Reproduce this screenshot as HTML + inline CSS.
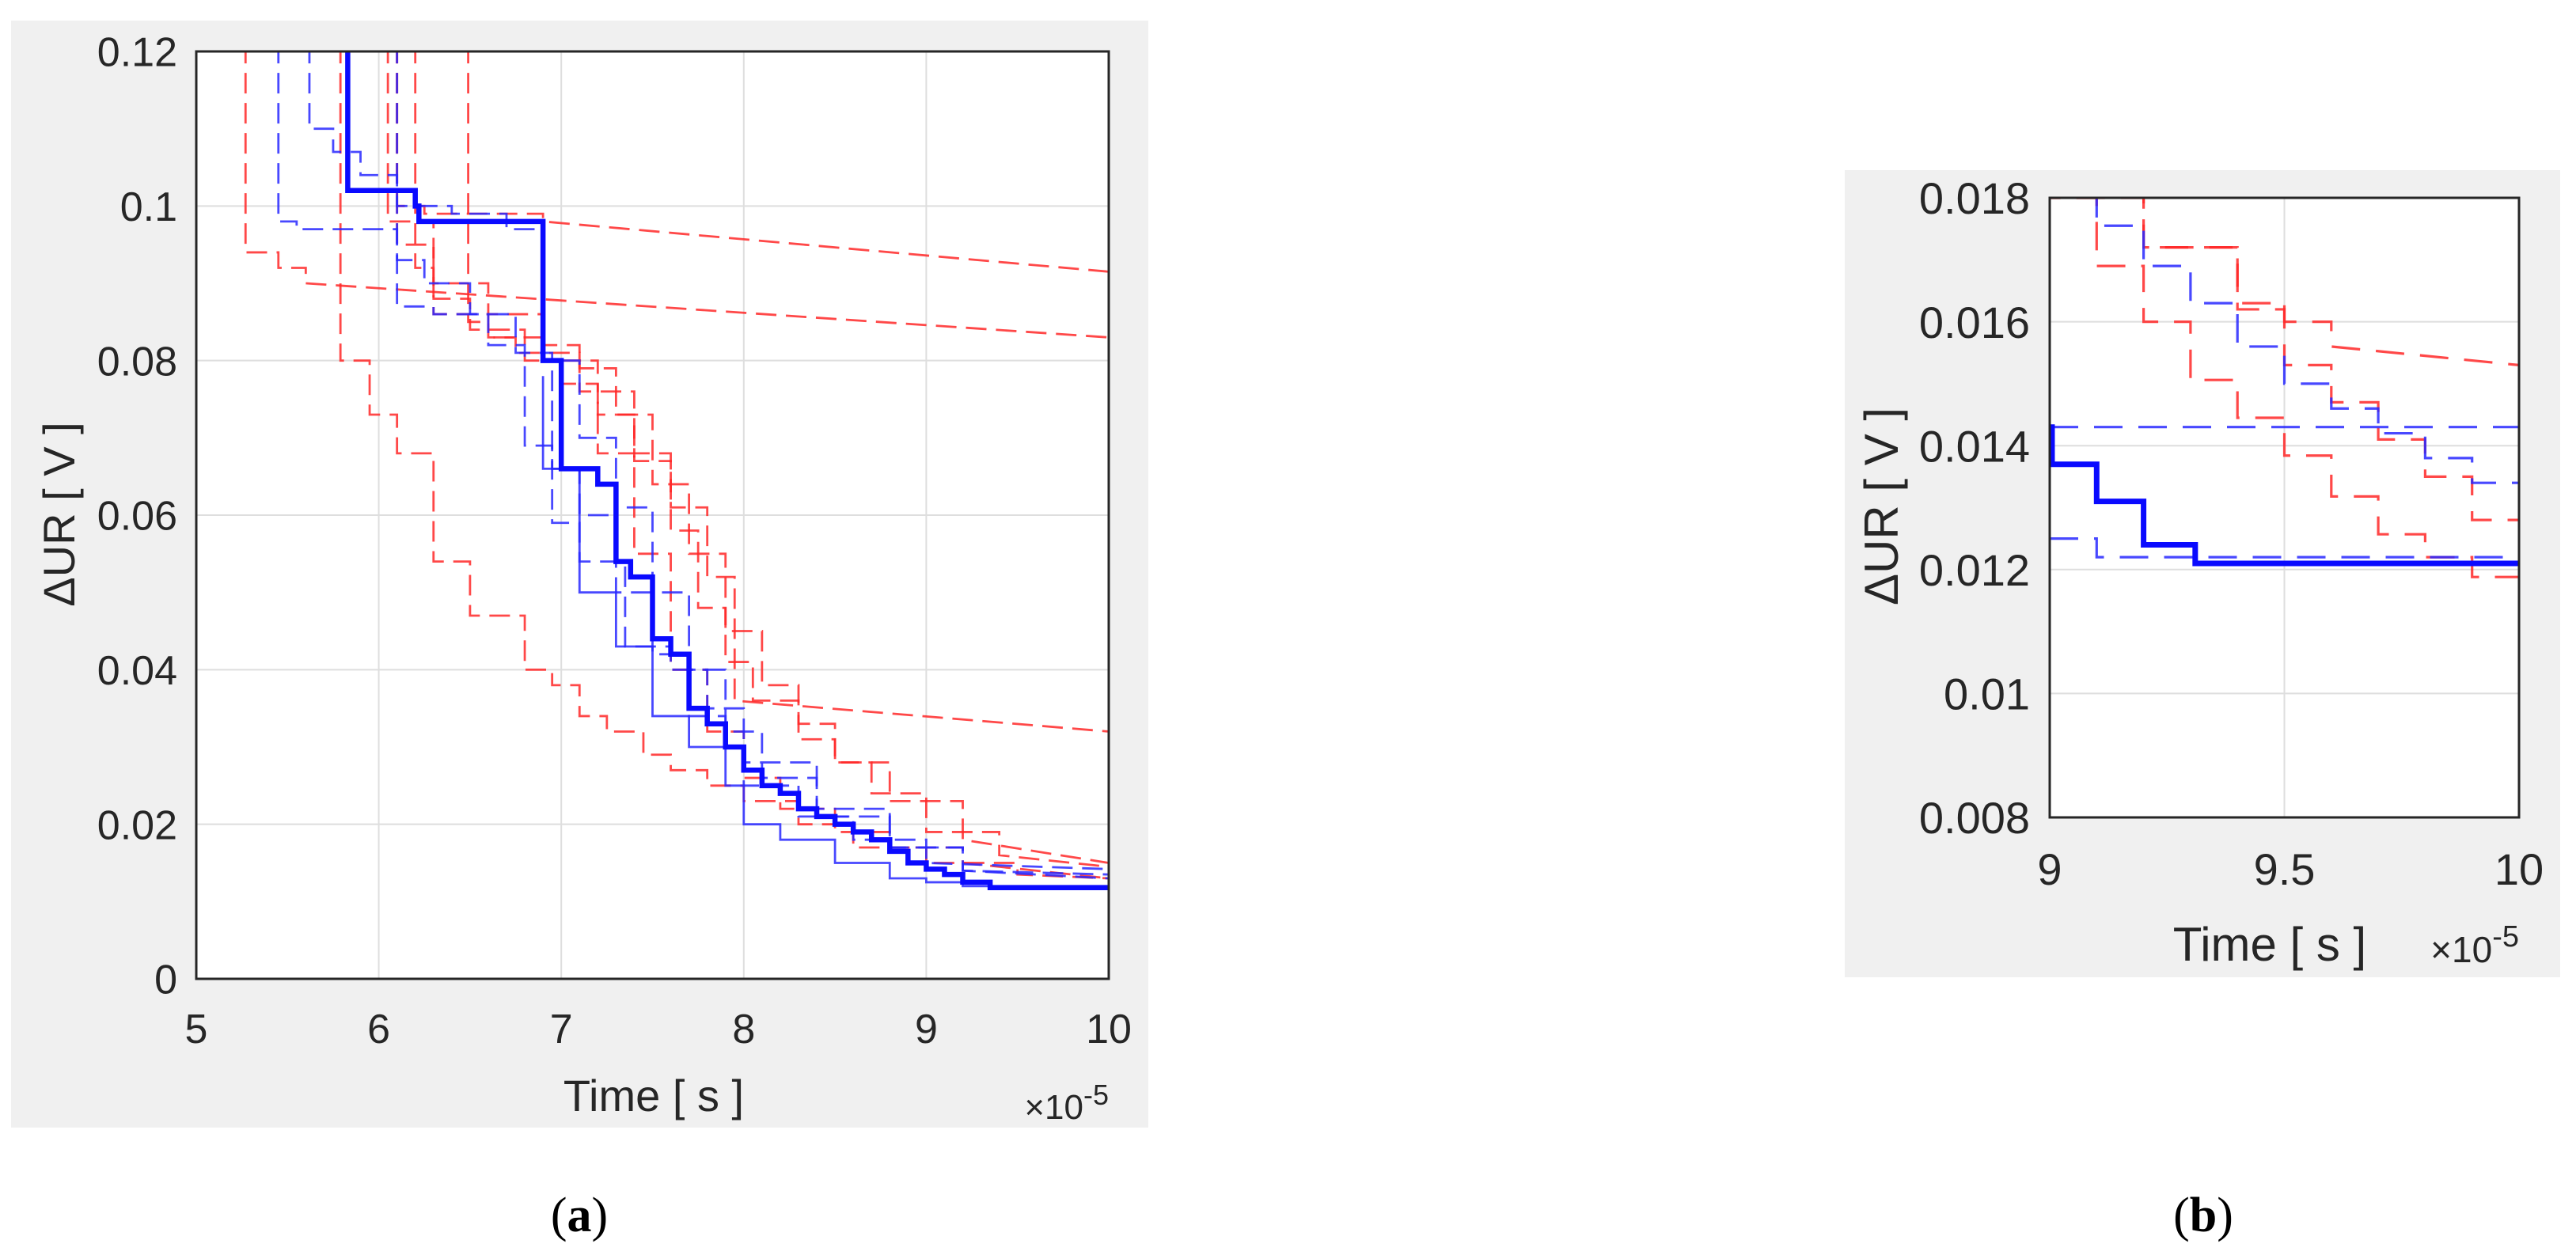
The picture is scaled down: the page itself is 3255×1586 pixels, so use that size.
<!DOCTYPE html>
<html><head><meta charset="utf-8"><style>
html,body{margin:0;padding:0;background:#fff;}
svg{display:block;}
text{font-family:"Liberation Sans",Arial,sans-serif;fill:#262626;}
</style></head><body>
<svg id="fig" width="3255" height="1586" viewBox="0 0 3255 1586" xmlns="http://www.w3.org/2000/svg">
<rect x="14" y="26" width="1437" height="1399" fill="#f0f0f0"/>
<rect x="2331" y="215" width="904" height="1020" fill="#f0f0f0"/>
<g id="pa"></g>
<g id="pb"></g>
<text x="732" y="1556" text-anchor="middle" font-size="62" style="font-family:'Liberation Serif',serif;fill:#000">(<tspan font-weight="bold">a</tspan>)</text>
<text x="2784" y="1556" text-anchor="middle" font-size="62" style="font-family:'Liberation Serif',serif;fill:#000">(<tspan font-weight="bold">b</tspan>)</text>
</svg>
<script>
// ---------- Panel A data ----------
const aXTicks = [5,6,7,8,9,10];
const aYTicks = [0,0.02,0.04,0.06,0.08,0.1,0.12];
const aYTickLabels = ["0","0.02","0.04","0.06","0.08","0.1","0.12"];
const aThickX = [5.83,6.2,6.22,6.9,7.0,7.2,7.3,7.38,7.5,7.6,7.7,7.8,7.9,8.0,8.1,8.2,8.3,8.4,8.5,8.6,8.7,8.8,8.9,9.0,9.1,9.2,9.35];
const aThickY = [0.102,0.1,0.098,0.080,0.066,0.064,0.054,0.052,0.044,0.042,0.035,0.033,0.030,0.027,0.025,0.024,0.022,0.021,0.020,0.019,0.018,0.0165,0.015,0.0142,0.0135,0.0125,0.0118];
const aThickEnd = 0.0118;
const aRed1X = [5.79,5.95,6.1,6.3,6.5,6.8,6.95,7.1,7.25,7.45,7.6,7.8,8.0,8.3,8.6,9.0,9.5];
const aRed1Y = [0.080,0.073,0.068,0.054,0.047,0.040,0.038,0.034,0.032,0.029,0.027,0.025,0.023,0.020,0.017,0.015,0.0135];
const aRed2X = [6.1,6.25,6.9];
const aRed2Y = [0.100,0.099,0.098];
const aRed3X = [5.27,5.45,5.6];
const aRed3Y = [0.094,0.092,0.090];
const aRed4X = [6.49,6.6,6.75,7.1,7.4,7.6,7.8,7.95];
const aRed4Y = [0.085,0.083,0.081,0.076,0.068,0.061,0.052,0.036];
const aRed5X = [6.2,6.3,6.5,6.8,7.0,7.2,7.4,7.6,7.75,7.9,8.05,8.3,8.5,8.8,9.2];
const aRed5Y = [0.092,0.088,0.084,0.080,0.077,0.073,0.067,0.058,0.048,0.041,0.036,0.031,0.028,0.023,0.018];
const aRed6X = [6.05,6.3,6.6,6.9,7.1,7.3,7.5,7.7,7.9,8.1,8.3,8.5,8.7,9.0,9.4];
const aRed6Y = [0.098,0.090,0.086,0.082,0.079,0.073,0.064,0.055,0.045,0.038,0.033,0.028,0.024,0.019,0.016];
const aRed7X = [6.1,6.3,6.6,6.9,7.2,7.4,7.6,7.8,8.0,8.2,8.5,8.8,9.2];
const aRed7Y = [0.095,0.086,0.083,0.080,0.068,0.055,0.040,0.032,0.026,0.022,0.019,0.017,0.015];
const aRedEnd = [0.013,0.0915,0.083,0.032,0.015,0.0145,0.013];
const aBlue1X = [5.45,5.55,6.1,6.25,6.5,6.75,6.95,7.1,7.3,7.5,7.7,7.9,8.0,8.3,8.6,9.0];
const aBlue1Y = [0.098,0.097,0.093,0.090,0.086,0.081,0.066,0.060,0.050,0.042,0.034,0.030,0.025,0.021,0.018,0.015];
const aBlue2X = [5.62,5.75,5.9,6.1,6.4,6.7,6.9,7.1,7.3,7.5,7.7,7.9,8.1,8.4,8.8,9.2];
const aBlue2Y = [0.110,0.107,0.104,0.100,0.099,0.097,0.080,0.070,0.061,0.050,0.040,0.032,0.026,0.021,0.017,0.014];
const aBlue3X = [6.1,6.3,6.6,6.8,6.95,7.1,7.35,7.6,7.8,8.0,8.4,8.8,9.2];
const aBlue3Y = [0.087,0.086,0.082,0.069,0.059,0.054,0.043,0.040,0.035,0.028,0.022,0.017,0.014];
const aBlue4X = [6.9,7.1,7.3,7.5,7.7,7.9,8.0,8.2,8.5,8.8,9.0,9.2];
const aBlue4Y = [0.066,0.050,0.043,0.034,0.030,0.025,0.020,0.018,0.015,0.013,0.0125,0.012];
const aBlueEnd = [0.0142,0.013,0.0135,0.012];
const aBlueStart = [0.125,0.125,0.125,0.078];

// ---------- Panel B data ----------
const bXTicks = [9,9.5,10];
const bXTickLabels = ["9","9.5","10"];
const bYTicks = [0.008,0.010,0.012,0.014,0.016,0.018];
const bYTickLabels = ["0.008","0.01","0.012","0.014","0.016","0.018"];
const bThickX = [9.0,9.005,9.1,9.2,9.31];
const bThickY = [0.0143,0.0137,0.0131,0.0124,0.0121];
const bThickEnd = 0.0121;
const bBlue1X = [9.0];
const bBlue1Y = [0.0143];
const bBlue2X = [9.0,9.1,9.25];
const bBlue2Y = [0.0125,0.0122,0.0122];
const bBlue3X = [9.0,9.1,9.2,9.3,9.4,9.5,9.6,9.7,9.8,9.9];
const bBlue3Y = [0.0181,0.01755,0.0169,0.0163,0.0156,0.0150,0.0146,0.0142,0.0138,0.0134];
const bBlueEnd = [0.0143,0.0122,0.0134];
const bRed1X = [9.0,9.1,9.2,9.3,9.4,9.5,9.6,9.7,9.8,9.9];
const bRed1Y = [0.0180,0.0169,0.0160,0.01506,0.01445,0.01384,0.01318,0.01257,0.0122,0.01188];
const bRed2X = [9.2,9.4,9.5,9.6];
const bRed2Y = [0.0172,0.0163,0.0160,0.0156];
const bRed3X = [9.0,9.2,9.4,9.5,9.6,9.7,9.8,9.9];
const bRed3Y = [0.0180,0.0172,0.0162,0.0153,0.0147,0.0141,0.0135,0.0128];
const bRedEnd = [0.01188,0.0153,0.0128];

const NS = "http://www.w3.org/2000/svg";
function mk(parent, tag, attrs){
  const e = document.createElementNS(NS, tag);
  for (const k in attrs) e.setAttribute(k, attrs[k]);
  parent.appendChild(e);
  return e;
}
function stepPath(xs, ys, endY, startY, sx, sy, xMax){
  let d = "";
  if (startY !== null) d += "M" + sx(xs[0]) + "," + sy(startY) + " L" + sx(xs[0]) + "," + sy(ys[0]);
  else d += "M" + sx(xs[0]) + "," + sy(ys[0]);
  for (let i = 1; i < xs.length; i++){
    d += " L" + sx(xs[i]) + "," + sy(ys[i-1]) + " L" + sx(xs[i]) + "," + sy(ys[i]);
  }
  d += " L" + sx(xMax) + "," + sy(endY);
  return d;
}

function drawAxes(g, L, T, R, B, xTicks, xLabels, yTicks, yLabels, sx, sy, fs, cfg){
  mk(g, "rect", {x:L, y:T, width:R-L, height:B-T, fill:"#fff"});
  xTicks.forEach((v,i)=>{
    const l = mk(g, "line", {x1:sx(v), x2:sx(v), y1:T, y2:B, stroke:"#dedede", "stroke-width":2});
    
    
    const t = mk(g, "text", {x:sx(v), y:cfg.xLabelY, "text-anchor":"middle", "font-size":fs});
    t.textContent = xLabels[i];
    
    
  });
  yTicks.forEach((v,i)=>{
    const l = mk(g, "line", {x1:L, x2:R, y1:sy(v), y2:sy(v), stroke:"#dedede", "stroke-width":2});
    
    
    const t = mk(g, "text", {x:cfg.yLabelX, y:sy(v)+fs*0.36, "text-anchor":"end", "font-size":fs});
    t.textContent = yLabels[i];
    
    
  });
}
function frame(g, L, T, R, B){
  const f = mk(g, "rect", {x:L, y:T, width:R-L, height:B-T, fill:"none", stroke:"#262626", "stroke-width":3});
  
  
}
function series(g, d, color, w, dash, name, clip){
  const p = mk(g, "path", {d:d, fill:"none", stroke:color, "stroke-width":w, "stroke-linejoin":"miter", "clip-path":"url(#"+clip+")"});
  if (dash) p.setAttribute("stroke-dasharray", dash);
  
  
}

// ===== Panel A =====
(function(){
  const g = document.getElementById("pa");
  const L=248, T=65, R=1401, B=1237;
  const sx = v => L + (v-5)/(10-5)*(R-L);
  const sy = v => B - (v-0)/(0.12)*(B-T);
  const defs = mk(g, "defs", {});
  const cp = mk(defs, "clipPath", {id:"clipA"});
  mk(cp, "rect", {x:L, y:T, width:R-L, height:B-T});
  drawAxes(g, L, T, R, B, aXTicks, aXTicks.map(String), aYTicks, aYTickLabels, sx, sy, 52, {xLabelY:1318, yLabelX:224});
  const reds = [[aRed1X,aRed1Y],[aRed2X,aRed2Y],[aRed3X,aRed3Y],[aRed4X,aRed4Y],[aRed5X,aRed5Y],[aRed6X,aRed6Y],[aRed7X,aRed7Y]];
  reds.forEach((s,i)=>{
    series(g, stepPath(s[0], s[1], aRedEnd[i], 0.125, sx, sy, 10), "rgba(255,40,40,0.85)", 2.8, "26 12", "red-dashed-series-"+(i+1), "clipA");
  });
  const blues = [[aBlue1X,aBlue1Y],[aBlue2X,aBlue2Y],[aBlue3X,aBlue3Y],[aBlue4X,aBlue4Y]];
  blues.forEach((s,i)=>{
    series(g, stepPath(s[0], s[1], aBlueEnd[i], aBlueStart[i], sx, sy, 10), "rgba(40,40,255,0.85)", 2.8, i===3 ? null : "26 12", "blue-dashed-series-"+(i+1), "clipA");
  });
  series(g, stepPath(aThickX, aThickY, aThickEnd, 0.125, sx, sy, 10), "#0a0aff", 6.5, null, "blue-thick-series", "clipA");
  frame(g, L, T, R, B);
  const xl = mk(g, "text", {x:826, y:1404, "text-anchor":"middle", "font-size":56});
  xl.textContent = "Time [ s ]";
  
  
  const ex = mk(g, "text", {x:1401, y:1414, "text-anchor":"end", "font-size":44});
  ex.innerHTML = "×10<tspan dy='-18' font-size='36'>-5</tspan>";
  
  
  const yl = mk(g, "text", {x:0, y:0, "text-anchor":"middle", "font-size":56, transform:"translate(94,650) rotate(-90)"});
  yl.textContent = "ΔUR [ V ]";
  
  
})();

// ===== Panel B =====
(function(){
  const g = document.getElementById("pb");
  const L=2590, T=250, R=3183, B=1033;
  const sx = v => L + (v-9)/(10-9)*(R-L);
  const sy = v => B - (v-0.008)/(0.010)*(B-T);
  const defs = mk(g, "defs", {});
  const cp = mk(defs, "clipPath", {id:"clipB"});
  mk(cp, "rect", {x:L, y:T, width:R-L, height:B-T});
  drawAxes(g, L, T, R, B, bXTicks, bXTickLabels, bYTicks, bYTickLabels, sx, sy, 56, {xLabelY:1118, yLabelX:2565});
  const reds = [[bRed1X,bRed1Y],[bRed2X,bRed2Y],[bRed3X,bRed3Y]];
  reds.forEach((s,i)=>{
    series(g, stepPath(s[0], s[1], bRedEnd[i], 0.019, sx, sy, 10), "rgba(255,40,40,0.85)", 3.2, "36 20", "red-dashed-series-"+(i+1), "clipB");
  });
  const blues = [[bBlue1X,bBlue1Y],[bBlue2X,bBlue2Y],[bBlue3X,bBlue3Y]];
  blues.forEach((s,i)=>{
    series(g, stepPath(s[0], s[1], bBlueEnd[i], null, sx, sy, 10), "rgba(40,40,255,0.85)", 3.2, "36 20", "blue-dashed-series-"+(i+1), "clipB");
  });
  series(g, stepPath(bThickX, bThickY, bThickEnd, null, sx, sy, 10), "#0a0aff", 7, null, "blue-thick-series", "clipB");
  frame(g, L, T, R, B);
  const xl = mk(g, "text", {x:2868, y:1214, "text-anchor":"middle", "font-size":60});
  xl.textContent = "Time [ s ]";
  
  
  const ex = mk(g, "text", {x:3183, y:1216, "text-anchor":"end", "font-size":46});
  ex.innerHTML = "×10<tspan dy='-20' font-size='38'>-5</tspan>";
  
  
  const yl = mk(g, "text", {x:0, y:0, "text-anchor":"middle", "font-size":60, transform:"translate(2398,640) rotate(-90)"});
  yl.textContent = "ΔUR [ V ]";
  
  
})();
</script>
</body></html>
